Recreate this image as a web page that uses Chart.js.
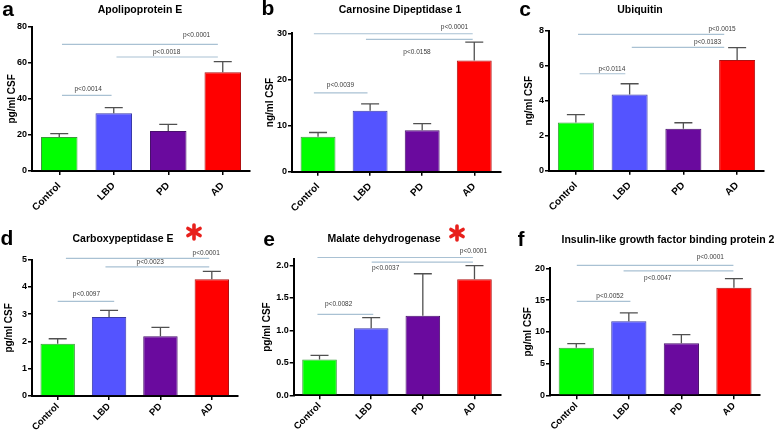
<!DOCTYPE html>
<html>
<head>
<meta charset="utf-8">
<script src="https://cdn.jsdelivr.net/npm/chart.js@4.4.0/dist/chart.umd.min.js"></script>
<style>
html, body { margin: 0; padding: 0; background: #fff; }
#wrap { position: relative; width: 778px; height: 433px; overflow: hidden; }
#wrap canvas { position: absolute; }
</style>
</head>
<body>
<div id="wrap"></div>
<script>
var groups = ["Control", "LBD", "PD", "AD"];

// mean and upper SEM per group
var apoeMean = [18.8, 32.0, 22.2, 54.7];
var apoeSem = [1.9, 3.1, 3.7, 5.9];
var cndpMean = [7.6, 13.2, 9.0, 24.1];
var cndpSem = [0.9, 1.5, 1.4, 4.0];
var ubqMean = [2.76, 4.36, 2.40, 6.32];
var ubqSem = [0.44, 0.61, 0.34, 0.71];
var cpeMean = [1.92, 2.90, 2.19, 4.28];
var cpeSem = [0.18, 0.24, 0.33, 0.29];
var mdhMean = [0.549, 1.03, 1.225, 1.785];
var mdhSem = [0.066, 0.165, 0.645, 0.21];
var igfMean = [7.5, 11.65, 8.19, 16.95];
var igfSem = [0.64, 1.32, 1.36, 1.42];

// p values: Control vs LBD, LBD vs AD, Control vs AD
var apoeP = ["p<0.0014", "p<0.0018", "p<0.0001"];
var cndpP = ["p<0.0039", "p<0.0158", "p<0.0001"];
var ubqP = ["p<0.0114", "p<0.0183", "p<0.0015"];
var cpeP = ["p<0.0097", "p<0.0023", "p<0.0001"];
var mdhP = ["p<0.0082", "p<0.0037", "p<0.0001"];
var igfP = ["p<0.0052", "p<0.0047", "p<0.0001"];

var barColors = ["#00ff00", "#5454ff", "#6a0a9e", "#ff0000"];
var barBorders = ["#3c9a3c", "#3a3aa8", "#48106c", "#b01010"];
var FONT = "'Liberation Sans', Arial, sans-serif";

// x, y, w, h: canvas box; area: left, top, right, bottom of plot (page px)
// lines: [from index, to index, y value]; labels: [index, y value]
var panels = [
    { letter: "a", title: "Apolipoprotein E", unit: "pg/ml CSF", mean: apoeMean, sem: apoeSem, p: apoeP,
      max: 80, step: 20, x: 0, y: 0, w: 259, h: 216, area: [32, 26.7, 250, 171],
      letterPos: [8, 10], titlePos: [140, 10], unitPad: 6, tickPad: 5, tickSize: 10,
      lines: [[0.05, 0.96, 41.9], [1.05, 2.91, 63.2], [0.05, 2.91, 70.2]],
      labels: [[0.53, 45.6], [1.97, 66.0], [2.52, 75.4]] },
    { letter: "b", title: "Carnosine Dipeptidase 1", unit: "ng/ml CSF", mean: cndpMean, sem: cndpSem, p: cndpP,
      max: 30, step: 10, x: 259, y: 0, w: 259, h: 216, area: [292, 33.3, 500.3, 171.7],
      letterPos: [268, 9], titlePos: [400, 10], unitPad: 5, tickPad: 5, tickSize: 10,
      lines: [[-0.08, 0.95, 17.1], [0.92, 2.97, 28.7], [-0.08, 2.97, 29.9]],
      labels: [[0.43, 18.8], [1.9, 26.0], [2.62, 31.4]] },
    { letter: "c", title: "Ubiquitin", unit: "ng/ml CSF", mean: ubqMean, sem: ubqSem, p: ubqP,
      max: 8, step: 2, x: 518, y: 0, w: 260, h: 216, area: [549, 30.7, 764, 170.7],
      letterPos: [525, 10], titlePos: [640, 10], unitPad: 5, tickPad: 5, tickSize: 10,
      lines: [[0.07, 0.92, 5.54], [1.04, 2.76, 7.05], [0.04, 2.76, 7.79]],
      labels: [[0.67, 5.79], [2.45, 7.35], [2.72, 8.11]] },
    { letter: "d", title: "Carboxypeptidase E", unit: "pg/ml CSF", mean: cpeMean, sem: cpeSem, p: cpeP,
      max: 5, step: 1, x: 0, y: 216, w: 259, h: 217, area: [32, 259.7, 237.5, 396],
      letterPos: [7, 239], titlePos: [123, 239], unitPad: 3, tickPad: 1, tickSize: 9.5, star: [194, 232],
      lines: [[0, 1.1, 3.47], [0.93, 2.95, 4.74], [0.16, 2.95, 5.05]],
      labels: [[0.56, 3.75], [1.8, 4.89], [2.89, 5.23]] },
    { letter: "e", title: "Malate dehydrogenase", unit: "pg/ml CSF", mean: mdhMean, sem: mdhSem, p: mdhP,
      max: 2.1, step: 0.5, decimals: 1, x: 259, y: 216, w: 259, h: 217, area: [293.7, 258.8, 500.3, 395.3],
      letterPos: [269, 240], titlePos: [384, 239], unitPad: 2, tickPad: 1, tickSize: 9.5, star: [457, 233],
      lines: [[-0.04, 1.04, 1.246], [1.01, 2.97, 2.05], [-0.04, 2.97, 2.12]],
      labels: [[0.37, 1.395], [1.28, 1.95], [2.98, 2.21]] },
    { letter: "f", title: "Insulin-like growth factor binding protein 2", unit: "pg/ml CSF", mean: igfMean, sem: igfSem, p: igfP,
      max: 20, step: 5, x: 518, y: 216, w: 260, h: 217, area: [550, 268.3, 760.2, 395.3],
      letterPos: [521, 240], titlePos: [668, 240], unitPad: 4, tickPad: 1, tickSize: 9.5,
      lines: [[0.01, 1.03, 14.8], [0.9, 2.99, 19.6], [0.01, 2.99, 20.47]],
      labels: [[0.64, 15.6], [1.55, 18.5], [2.55, 21.7]] },
];

function drawStar(ctx, cx, cy) {
    ctx.save();
    ctx.strokeStyle = "#e8201c";
    ctx.lineWidth = 3.6;
    ctx.lineCap = "round";
    for (var k = 0; k < 3; k++) {
        var a = Math.PI / 2 + k * Math.PI / 3;
        ctx.beginPath();
        ctx.moveTo(cx - 7 * Math.cos(a), cy - 7 * Math.sin(a));
        ctx.lineTo(cx + 7 * Math.cos(a), cy + 7 * Math.sin(a));
        ctx.stroke();
    }
    ctx.restore();
}

function makeDecor(pn) {
    return {
        id: "decor" + pn.letter,
        afterDatasetsDraw: function (chart) {
            var ctx = chart.ctx;
            var ys = chart.scales.y;
            var bars = chart.getDatasetMeta(0).data;
            ctx.save();
            ctx.strokeStyle = "#505050";
            ctx.lineWidth = 1.3;
            bars.forEach(function (bar, i) {
                var top = ys.getPixelForValue(pn.mean[i] + pn.sem[i]);
                var y0 = ys.getPixelForValue(pn.mean[i]);
                ctx.beginPath();
                ctx.moveTo(bar.x, y0);
                ctx.lineTo(bar.x, top);
                ctx.moveTo(bar.x - 9, top);
                ctx.lineTo(bar.x + 9, top);
                ctx.stroke();
            });
            ctx.restore();
        },
        afterDraw: function (chart) {
            var ctx = chart.ctx;
            var xs = chart.scales.x;
            var ys = chart.scales.y;
            ctx.save();
            // significance lines
            ctx.strokeStyle = "#a9c1d3";
            ctx.lineWidth = 1.2;
            pn.lines.forEach(function (l) {
                var yy = ys.getPixelForValue(l[2]);
                ctx.beginPath();
                ctx.moveTo(xs.getPixelForValue(l[0]), yy);
                ctx.lineTo(xs.getPixelForValue(l[1]), yy);
                ctx.stroke();
            });
            ctx.fillStyle = "#3a3a3a";
            ctx.font = "6.5px " + FONT;
            ctx.textAlign = "center";
            ctx.textBaseline = "middle";
            pn.labels.forEach(function (lb, i) {
                ctx.fillText(pn.p[i], xs.getPixelForValue(lb[0]), ys.getPixelForValue(lb[1]));
            });
            // title and panel letter
            ctx.fillStyle = "#000";
            ctx.font = "bold 10.5px " + FONT;
            ctx.fillText(pn.title, pn.titlePos[0] - pn.x, pn.titlePos[1] - pn.y);
            ctx.font = "bold 21px " + FONT;
            ctx.fillText(pn.letter, pn.letterPos[0] - pn.x, pn.letterPos[1] - pn.y);
            if (pn.star) drawStar(ctx, pn.star[0] - pn.x, pn.star[1] - pn.y);
            ctx.restore();
        },
    };
}

var wrap = document.getElementById("wrap");
panels.forEach(function (pn) {
    var cv = document.createElement("canvas");
    cv.width = pn.w;
    cv.height = pn.h;
    cv.style.left = pn.x + "px";
    cv.style.top = pn.y + "px";
    cv.style.width = pn.w + "px";
    cv.style.height = pn.h + "px";
    wrap.appendChild(cv);

    var left = pn.area[0] - pn.x;
    var top = pn.area[1] - pn.y;
    var right = pn.area[2] - pn.x;
    var bottom = pn.area[3] - pn.y;

    new Chart(cv.getContext("2d"), {
        type: "bar",
        plugins: [makeDecor(pn)],
        data: {
            labels: groups,
            datasets: [
                {
                    data: pn.mean,
                    backgroundColor: barColors,
                    borderColor: barBorders,
                    borderWidth: 1,
                    barPercentage: 0.67,
                    categoryPercentage: 1,
                },
            ],
        },
        options: {
            responsive: false,
            animation: false,
            layout: { padding: { left: 0, top: top, right: pn.w - right, bottom: 0 } },
            plugins: {
                legend: { display: false },
                tooltip: { enabled: false },
            },
            scales: {
                x: {
                    grid: { display: true, drawOnChartArea: false, offset: false, color: "#000", lineWidth: 1.5, tickLength: 4 },
                    border: { color: "#000", width: 2 },
                    ticks: {
                        minRotation: 45,
                        maxRotation: 45,
                        padding: pn.tickPad,
                        color: "#000",
                        font: { family: FONT, size: pn.tickSize, weight: "bold" },
                    },
                    afterFit: function (s) {
                        s.height = pn.h - bottom;
                    },
                },
                y: {
                    min: 0,
                    max: pn.max,
                    grid: { display: true, drawOnChartArea: false, color: "#000", lineWidth: 1.5, tickLength: 4 },
                    border: { color: "#000", width: 2 },
                    ticks: {
                        padding: 1,
                        color: "#000",
                        font: { family: FONT, size: 9, weight: "bold" },
                        callback: function (v) {
                            return pn.decimals ? v.toFixed(pn.decimals) : v;
                        },
                    },
                    title: {
                        display: true,
                        text: pn.unit,
                        color: "#000",
                        font: { family: FONT, size: 10, weight: "bold" },
                        padding: { top: pn.unitPad, bottom: 0 },
                    },
                    afterBuildTicks: function (s) {
                        var list = [];
                        for (var k = 0; k * pn.step <= pn.max + 1e-9; k++) {
                            list.push({ value: Math.round(k * pn.step * 1000) / 1000 });
                        }
                        s.ticks = list;
                    },
                    afterFit: function (s) {
                        s.width = left;
                    },
                },
            },
        },
    });
});
</script>
</body>
</html>
